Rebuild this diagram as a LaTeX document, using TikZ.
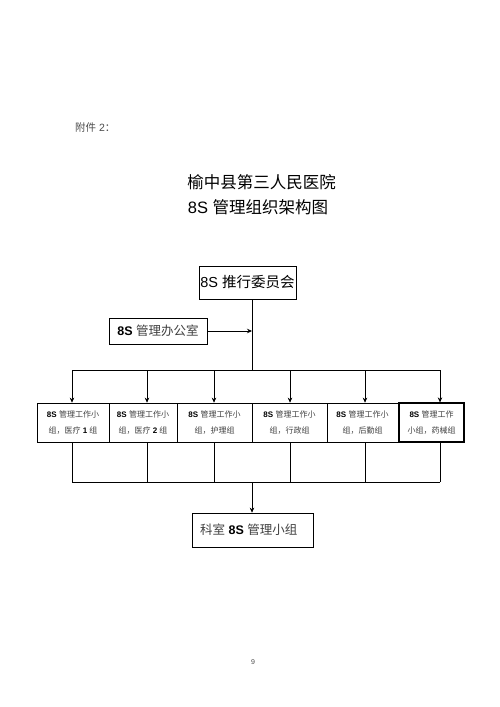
\documentclass[tikz,border=0pt]{standalone}
\usepackage{fontspec}
\setmainfont{Liberation Sans}
\newfontfamily\cjk{Noto Sans CJK SC}
\usetikzlibrary{arrows.meta}
\tikzset{
  box/.style={draw, line width=0.7pt, inner sep=0pt},
  grp/.style={box, minimum height=39pt, align=center, text=black!75,
    font=\fontsize{8}{16}\selectfont},
  conn/.style={line width=0.7pt},
  arr/.style={conn, -{Stealth[length=5pt,width=4.5pt]}},
}
\newcommand{\B}[1]{{\bfseries\color{black}#1}}
\begin{document}
\begin{tikzpicture}[x=1pt,y=-1pt]
\useasboundingbox[fill=white] (0,0) rectangle (500,707);
% headings
\node[anchor=west, inner sep=0pt, text=black!70, font=\fontsize{10.5}{12}\selectfont] (att) at (75,128) {{\cjk 附件} 2{\cjk ：}};
\node[inner sep=0pt, font=\fontsize{16.5}{18}\selectfont] (t1) at (261.5,182) {\cjk 榆中县第三人民医院};
\node[inner sep=0pt, font=\fontsize{16.5}{18}\selectfont] (t2) at (258,207) {8S {\cjk 管理组织架构图}};
% top boxes
\node[box, minimum width=97pt, minimum height=33pt, font=\fontsize{14.5}{16}\selectfont] (comm) at (247.5,282.5) {8S {\cjk 推行委员会}};
\node[box, minimum width=98pt, minimum height=26pt, font=\fontsize{12.5}{14}\selectfont] (office) at (158,331) {\B{8S} {\cjk\color{black!75}管理办公室}};
\coordinate (cs) at (252,299);
\coordinate (hub) at (252,370);
\draw[conn] (cs) -- (hub);
\draw[arr] (office.east) -- (office.east -| hub);
% group boxes
\node[grp, minimum width=72pt] (g1) at (73,422.5) {\B{8S} {\cjk 管理工作小}\\{\cjk 组，医疗} \B{1} {\cjk 组}};
\node[grp, minimum width=68pt] (g2) at (143,422.5) {\B{8S} {\cjk 管理工作小}\\{\cjk 组，医疗} \B{2} {\cjk 组}};
\node[grp, minimum width=75pt] (g3) at (214.5,422.5) {\B{8S} {\cjk 管理工作小}\\{\cjk 组，护理组}};
\node[grp, minimum width=75pt] (g4) at (289.5,422.5) {\B{8S} {\cjk 管理工作小}\\{\cjk 组，行政组}};
\node[grp, minimum width=71pt] (g5) at (362.5,422.5) {\B{8S} {\cjk 管理工作小}\\{\cjk 组，后勤组}};
\node[grp, minimum width=65pt, line width=1.2pt] (g6) at (431.5,422.5) {\B{8S} {\cjk 管理工作}\\{\cjk 小组，药械组}};
% top bus
\foreach \i/\x in {1/72,2/147,3/214,4/290,5/365,6/440}{
  \coordinate (d\i) at (\x,370);
  \coordinate (e\i) at (\x,482);
}
\draw[conn] (d1) -- (d6);
\foreach \i in {1,...,6}{
  \draw[arr] (d\i) -- (d\i |- g\i.north);
  \draw[conn] (e\i |- g\i.south) -- (e\i);
}
\draw[conn] (e1) -- (e6);
% bottom box
\node[box, minimum width=121pt, minimum height=34pt] (dept) at (252.5,530) {};
\node[anchor=west, inner sep=0pt, font=\fontsize{12.5}{14}\selectfont] (deptt) at (200,530) {{\cjk\color{black!75}科室} \B{8S} {\cjk\color{black!75}管理小组}};
\coordinate (hub2) at (252,482);
\draw[arr] (hub2) -- (hub2 |- dept.north);
% page number
\node[inner sep=0pt, text=black!70, font=\fontsize{7}{8}\selectfont] (pg) at (253,662) {9};
\end{tikzpicture}
\end{document}
